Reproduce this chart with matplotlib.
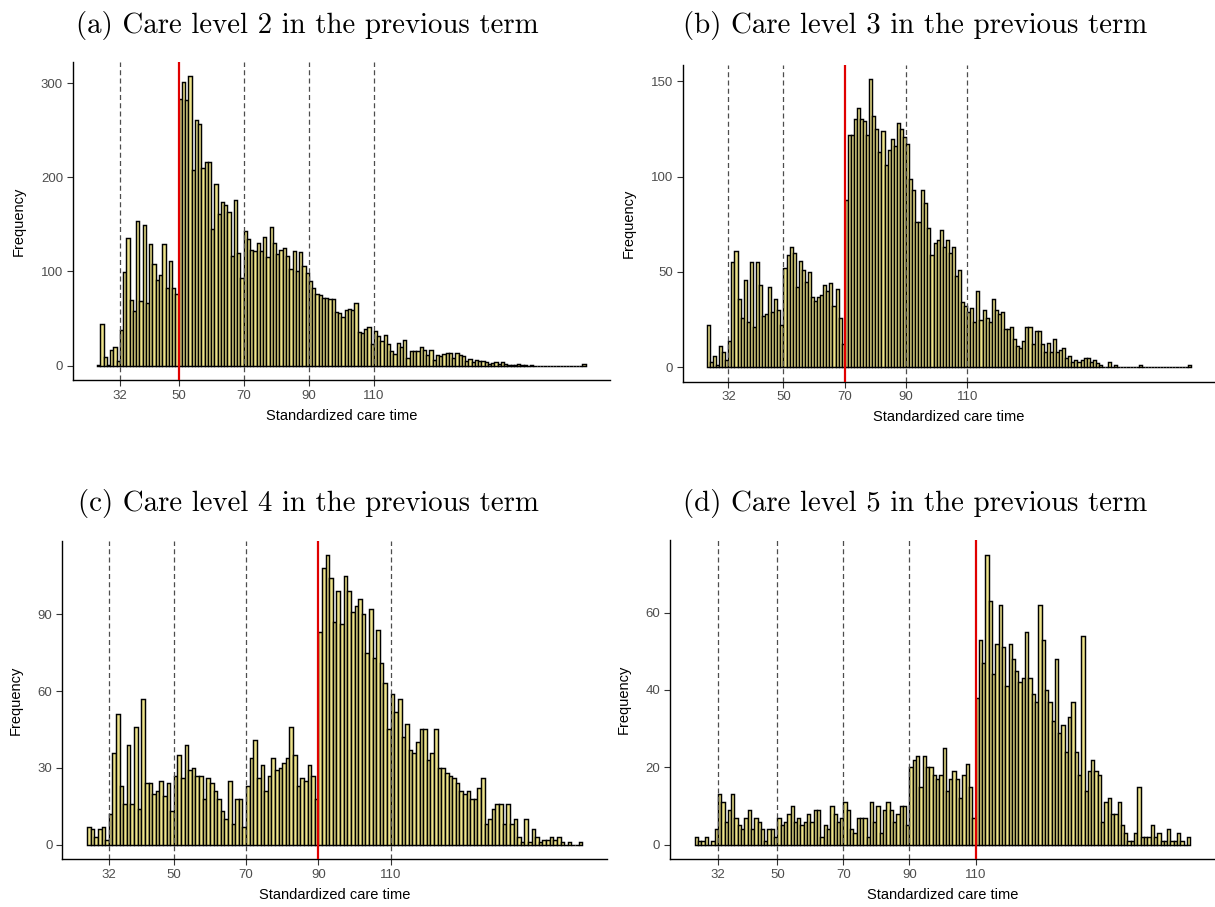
import matplotlib
matplotlib.use('Agg')
import matplotlib.pyplot as plt
import numpy as np

plt.rcParams['font.family'] = ['Liberation Sans', 'DejaVu Sans']

# care-time thresholds between care levels (minutes)
THRESHOLDS = [32, 50, 70, 90, 110]

# counts per one-minute bin, starting at the given first bin
LEVEL2_START = 25
LEVEL2_COUNTS = [
    1, 44, 9, 1, 16, 20, 5,
    38, 99, 135, 70, 58, 154, 69, 149, 66, 129, 108, 91, 96, 129, 82, 111, 82, 76,
    283, 301, 282, 307, 208, 261, 257, 210, 216, 216, 145, 193, 161, 174, 171, 163, 116, 176, 119, 93,
    143, 134, 123, 122, 130, 122, 137, 115, 147, 130, 118, 123, 125, 116, 103, 122, 100, 121, 106, 98,
    90, 82, 76, 75, 72, 72, 71, 71, 57, 56, 52, 59, 60, 59, 66, 36, 35, 39, 41, 23,
    37, 31, 26, 32, 23, 15, 12, 24, 20, 27, 8, 15, 15, 15, 20, 17, 11, 17, 6, 11,
    10, 12, 13, 13, 8, 13, 11, 10, 5, 7, 4, 6, 5, 5, 4, 2, 3, 4, 2, 4,
    2, 1, 1, 1, 2, 1, 1, 0, 1, 0, 0, 0, 0, 0, 0, 0, 0, 0, 0, 0,
    0, 0, 0, 0, 2,
]

LEVEL3_START = 25
LEVEL3_COUNTS = [
    22, 3, 6, 1, 11, 8, 4,
    14, 55, 61, 36, 26, 46, 24, 55, 21, 55, 43, 27, 28, 42, 29, 36, 30, 22,
    52, 59, 63, 60, 42, 56, 51, 45, 50, 37, 35, 37, 38, 43, 40, 44, 32, 41, 26, 12,
    88, 122, 122, 130, 136, 130, 129, 122, 151, 132, 125, 113, 124, 106, 114, 120, 116, 128, 125, 121,
    117, 99, 93, 76, 76, 93, 86, 73, 59, 65, 67, 72, 63, 67, 60, 63, 48, 51,
    34, 32, 29, 31, 24, 40, 25, 30, 26, 24, 36, 30, 28, 29, 20, 20, 21, 15, 11, 10,
    14, 21, 21, 12, 19, 19, 12, 8, 13, 8, 15, 8, 9, 10, 5, 6, 3, 4, 3, 4,
    5, 5, 3, 4, 2, 1, 0, 0, 3, 0, 1,
    0, 0, 0, 0, 0, 0, 0, 1,
    0, 0, 0, 0, 0, 0, 0, 0, 0, 0, 0, 0, 0, 0, 0, 1,
]

LEVEL4_START = 26
LEVEL4_COUNTS = [
    7, 6, 3, 6, 7, 2,
    12, 36, 51, 23, 16, 39, 16, 46, 14, 57, 24, 24, 20, 21, 25, 19, 24, 13,
    27, 35, 26, 39, 29, 30, 27, 27, 18, 26, 24, 21, 18, 13, 10, 25, 8, 18, 18, 7,
    23, 34, 41, 26, 31, 21, 27, 34, 29, 30, 32, 34, 46, 35, 23, 26, 25, 31, 27, 18,
    83, 108, 113, 104, 87, 99, 86, 105, 99, 91, 93, 96, 90, 75, 92, 73, 84, 71, 63, 45,
    59, 52, 57, 42, 47, 37, 36, 40, 45, 45, 33, 36, 45, 30, 30, 28, 27, 26, 24, 21,
    20, 21, 18, 18, 22, 26, 8, 10, 14, 16, 16, 8, 16, 8, 10, 3, 1, 10, 1, 6,
    3, 1, 2, 2, 3, 2, 3, 1, 0, 1, 0, 0, 1,
]

LEVEL5_START = 25
LEVEL5_COUNTS = [
    2, 1, 1, 2, 0, 1, 4,
    13, 11, 6, 9, 13, 7, 5, 4, 7, 9, 4, 7, 6, 4, 1, 4, 4, 2,
    7, 5, 6, 8, 10, 6, 7, 5, 6, 8, 6, 9, 9, 2, 5, 4, 10, 8, 6, 7,
    11, 9, 4, 3, 7, 7, 7, 2, 11, 6, 10, 3, 9, 11, 9, 6, 8, 10, 10, 5,
    20, 22, 23, 15, 23, 20, 20, 18, 17, 18, 25, 14, 17, 19, 17, 12, 18, 21, 15, 7,
    38, 53, 47, 75, 63, 44, 52, 62, 51, 41, 52, 48, 45, 42, 43, 55, 43, 39, 37, 62,
    53, 40, 37, 32, 48, 29, 31, 24, 33, 37, 24, 18, 54,
    14, 19, 22, 19, 18, 6, 11, 12, 8, 8, 11, 5, 3, 1, 1, 3, 15, 2, 2, 2,
    5, 2, 3, 1, 1, 4, 1, 1, 3, 1, 0, 2,
]

TITLES = [
    '(a) Care level 2 in the previous term',
    '(b) Care level 3 in the previous term',
    '(c) Care level 4 in the previous term',
    '(d) Care level 5 in the previous term',
]
PREVIOUS_LEVEL_MIN = [50, 70, 90, 110]
YTICKS = [
    [0, 100, 200, 300],
    [0, 50, 100, 150],
    [0, 30, 60, 90],
    [0, 20, 40, 60],
]

FILL = '#EDE38A'
W, H = 1215, 907


def px_box(left, top, right, bottom):
    """Axes rectangle in figure fractions from pixel edges."""
    return [left / W, 1 - bottom / H, (right - left) / W, (bottom - top) / H]


def draw_panel(ax, start, counts, red_x, yticks):
    counts = np.asarray(counts)
    bins = start + np.arange(len(counts))
    ax.bar(bins, counts, width=1, align='edge', color=FILL,
           edgecolor='black', linewidth=1.05, zorder=2)

    for t in THRESHOLDS:
        if t == red_x:
            continue
        ax.axvline(t, color='#4D4D4D', linewidth=0.9, linestyle=(0, (4, 2.6)), zorder=3)
    ax.axvline(red_x, color='#E00000', linewidth=1.6, zorder=4)

    # ggplot-like 5% padding on both axes
    lo, hi = bins[0], bins[-1] + 1
    pad = 0.05 * (hi - lo)
    ax.set_xlim(lo - pad, hi + pad)
    ymax = counts.max()
    ax.set_ylim(-0.05 * ymax, 1.05 * ymax)

    ax.set_xticks(THRESHOLDS)
    ax.set_yticks(yticks)
    ax.tick_params(axis='both', labelsize=9.5, labelcolor='#4D4D4D', color='#333333',
                   length=4, width=0.8, pad=3)
    for side in ('top', 'right'):
        ax.spines[side].set_visible(False)
    for side in ('left', 'bottom'):
        ax.spines[side].set_linewidth(1.0)
    ax.set_xlabel('Standardized care time', fontsize=10.5, labelpad=5)
    ax.set_ylabel('Frequency', fontsize=10.5, labelpad=11)


fig = plt.figure(figsize=(W / 100, H / 100), dpi=100)

boxes = [
    px_box(72.7, 62, 610, 380),
    px_box(682.7, 65, 1215, 381.7),
    px_box(62.3, 540.7, 607, 859.3),
    px_box(670, 540, 1215, 859.3),
]
starts = [LEVEL2_START, LEVEL3_START, LEVEL4_START, LEVEL5_START]
series = [LEVEL2_COUNTS, LEVEL3_COUNTS, LEVEL4_COUNTS, LEVEL5_COUNTS]
title_xy = [(76, 33), (683, 33), (78, 511), (683, 511)]

for box, start, counts, red_x, yt, title, (tx, ty) in zip(
        boxes, starts, series, PREVIOUS_LEVEL_MIN, YTICKS, TITLES, title_xy):
    ax = fig.add_axes(box)
    draw_panel(ax, start, counts, red_x, yt)
    fig.text(tx / W, 1 - ty / H, title, fontsize=20.8, family='cmr10',
             ha='left', va='baseline')

fig.savefig('out.png', dpi=100)
